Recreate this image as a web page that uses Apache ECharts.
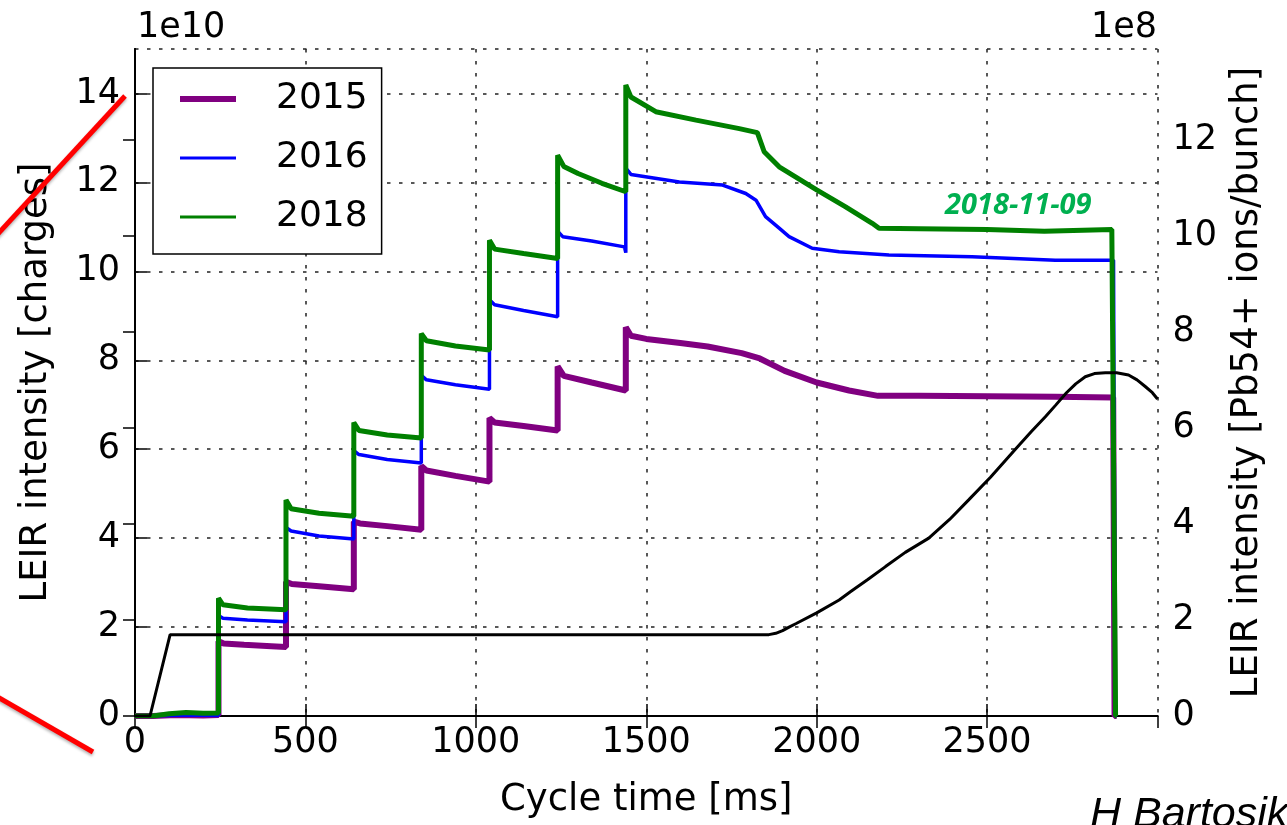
<!DOCTYPE html>
<html>
<head>
<meta charset="utf-8">
<title>LEIR intensity along the cycle</title>
<script src="https://cdn.jsdelivr.net/npm/echarts/dist/echarts.min.js"></script>
<style>
  html, body { margin: 0; padding: 0; background: #ffffff; }
  #chart { width: 1287px; height: 825px; }
</style>
</head>
<body>
<div id="chart"></div>
<script>
// Intensities are in units of 1e10 charges; cycle time in ms.
const seriesNames = ['2015', '2016', '2018'];
const xTicks = [0, 500, 1000, 1500, 2000, 2500];
const leftTicks = [0, 2, 4, 6, 8, 10, 12, 14];
const rightTicks = [0, 2, 4, 6, 8, 10, 12];

const intensity2015 = [
  [0, 0], [53, 0], [120, 0.02], [200, 0.01], [245, 0.02],
  [245, 1.68], [260, 1.63], [320, 1.6], [400, 1.57], [443, 1.55],
  [443, 3.02], [460, 2.97], [540, 2.92], [642, 2.85],
  [642, 4.37], [660, 4.33], [740, 4.27], [840, 4.19],
  [840, 5.62], [855, 5.52], [940, 5.4], [1040, 5.27],
  [1040, 6.7], [1055, 6.6], [1140, 6.52], [1240, 6.42],
  [1240, 7.86], [1258, 7.65], [1340, 7.5], [1440, 7.32],
  [1440, 8.74], [1455, 8.55], [1500, 8.48], [1600, 8.39], [1680, 8.31],
  [1780, 8.16], [1833, 8.04], [1906, 7.76], [2000, 7.5], [2095, 7.32],
  [2180, 7.2], [2300, 7.2], [2500, 7.19], [2700, 7.18], [2870, 7.16],
  [2874, 0], [2880, 0]
];

const intensity2016 = [
  [0, 0], [53, 0], [150, 0.02], [245, 0.01],
  [245, 2.26], [258, 2.2], [330, 2.16], [443, 2.12],
  [443, 4.24], [458, 4.16], [540, 4.05], [642, 3.98],
  [642, 5.97], [657, 5.88], [740, 5.77], [840, 5.69],
  [840, 7.66], [855, 7.56], [940, 7.45], [1040, 7.35],
  [1040, 9.36], [1055, 9.25], [1140, 9.12], [1240, 8.98],
  [1240, 10.9], [1255, 10.78], [1340, 10.68], [1436, 10.55], [1440, 10.42],
  [1440, 12.32], [1455, 12.18], [1597, 12.01], [1724, 11.94], [1792, 11.75],
  [1822, 11.6], [1850, 11.23], [1890, 10.97], [1919, 10.78], [1987, 10.52],
  [2066, 10.44], [2212, 10.37], [2456, 10.33], [2700, 10.25], [2871, 10.25],
  [2876, 0], [2880, 0]
];

const intensity2018 = [
  [0, 0], [53, 0], [100, 0.05], [150, 0.08], [200, 0.06], [245, 0.07],
  [245, 2.65], [258, 2.5], [330, 2.43], [443, 2.39],
  [443, 4.86], [458, 4.66], [540, 4.56], [642, 4.49],
  [642, 6.6], [657, 6.42], [740, 6.32], [840, 6.25],
  [840, 8.6], [855, 8.44], [940, 8.32], [1040, 8.23],
  [1040, 10.7], [1055, 10.5], [1140, 10.4], [1240, 10.29],
  [1240, 12.61], [1258, 12.36], [1300, 12.2], [1370, 11.98], [1440, 11.79],
  [1440, 14.19], [1455, 13.92], [1528, 13.59], [1646, 13.4], [1773, 13.21],
  [1826, 13.12], [1846, 12.69], [1890, 12.35], [2000, 11.83], [2085, 11.45],
  [2163, 11.08], [2183, 10.97], [2300, 10.96], [2500, 10.94], [2668, 10.9],
  [2866, 10.94], [2877, 0], [2880, 0]
];

// Magnetic cycle profile drawn in black (no legend entry), on the left scale.
const rampProfile = [
  [0, 0], [44, 0], [103, 1.83], [1860, 1.83], [1880, 1.86], [1900, 1.92],
  [1919, 2.0], [1940, 2.08], [2000, 2.32], [2066, 2.61], [2100, 2.8],
  [2150, 3.07], [2202, 3.36], [2260, 3.68], [2329, 4.0], [2390, 4.42],
  [2446, 4.86], [2510, 5.37], [2583, 6.0], [2630, 6.4], [2671, 6.73],
  [2700, 6.98], [2733, 7.27], [2760, 7.47], [2788, 7.63], [2815, 7.7],
  [2847, 7.72], [2880, 7.72], [2915, 7.67], [2940, 7.56], [2964, 7.41],
  [2985, 7.27], [3000, 7.13]
];

const FONT = 'DejaVu Sans';
const TICK_FS = 35;
const TITLE_FS = 37;
const LEGEND_FS = 36;
const CHARGES_PER_ION_BUNCH = 108; // 54 charges x 2 bunches
const leftMax = 15;                                     // 1e10 charges
const rightMax = leftMax * 100 / CHARGES_PER_ION_BUNCH; // 1e8 ions/bunch

const axisLineStyle = { color: '#000', width: 2 };
const tickStyle = { color: '#000', width: 1.5 };
const gridStyle = { color: '#222', width: 1.5, type: [3.5, 8.5] };

const chart = echarts.init(document.getElementById('chart'), null, { renderer: 'canvas' });

chart.setOption({
  animation: false,
  backgroundColor: '#ffffff',
  textStyle: { fontFamily: FONT, color: '#000' },
  grid: { left: 135, right: 129.5, top: 49, bottom: 109, containLabel: false },
  legend: {
    orient: 'vertical',
    left: 153, top: 68,
    itemWidth: 56, itemHeight: 14, itemGap: 23,
    padding: [13, 14, 19, 24],
    borderColor: '#000', borderWidth: 1.5, backgroundColor: '#fff',
    itemStyle: { opacity: 0 },
    textStyle: { fontFamily: FONT, fontSize: LEGEND_FS, color: '#000', lineHeight: 36, padding: [0, 0, 0, 35] },
    data: [
      { name: seriesNames[0], lineStyle: { width: 6 }, itemStyle: { opacity: 0 } },
      { name: seriesNames[1], lineStyle: { width: 3 }, itemStyle: { opacity: 0 } },
      { name: seriesNames[2], lineStyle: { width: 3 }, itemStyle: { opacity: 0 } }
    ]
  },
  xAxis: [
    {
      type: 'value', position: 'bottom', min: 0, max: 3000, interval: 500,
      axisLine: { lineStyle: axisLineStyle },
      axisTick: { inside: true, length: 12, lineStyle: tickStyle },
      axisLabel: {
        fontFamily: FONT, fontSize: TICK_FS, color: '#000', margin: 9, showMaxLabel: false,
        formatter: v => (xTicks.indexOf(v) >= 0 ? String(v) : '')
      },
      splitLine: { show: true, lineStyle: gridStyle },
      name: 'Cycle time [ms]', nameLocation: 'middle', nameGap: 66,
      nameTextStyle: { fontFamily: FONT, fontSize: TITLE_FS, color: '#000' }
    },
    {
      type: 'value', position: 'top', min: 0, max: 3000, interval: 500,
      axisLine: { lineStyle: axisLineStyle },
      axisTick: { inside: true, length: 12, lineStyle: tickStyle },
      axisLabel: { show: false },
      splitLine: { show: false }
    }
  ],
  yAxis: [
    {
      type: 'value', position: 'left', min: 0, max: leftMax, interval: 2,
      axisLine: { show: true, lineStyle: axisLineStyle },
      axisTick: { show: true, inside: true, length: 12, lineStyle: tickStyle },
      axisLabel: {
        fontFamily: FONT, fontSize: TICK_FS, color: '#000', margin: 15, showMaxLabel: false,
        formatter: v => (leftTicks.indexOf(v) >= 0 ? String(v) : '')
      },
      splitLine: { show: true, lineStyle: gridStyle },
      name: 'LEIR intensity [charges]', nameLocation: 'middle', nameGap: 80, nameRotate: 90,
      nameTextStyle: { fontFamily: FONT, fontSize: TITLE_FS, color: '#000' }
    },
    {
      type: 'value', position: 'right', min: 0, max: rightMax, interval: 2,
      axisLine: { show: true, lineStyle: axisLineStyle },
      axisTick: { show: true, inside: true, length: 12, lineStyle: tickStyle },
      axisLabel: {
        fontFamily: FONT, fontSize: TICK_FS, color: '#000', margin: 15, showMaxLabel: false,
        formatter: v => (rightTicks.indexOf(v) >= 0 ? String(v) : '')
      },
      splitLine: { show: false },
      name: 'LEIR intensity [Pb54+ ions/bunch]', nameLocation: 'middle', nameGap: 71, nameRotate: 90,
      nameTextStyle: { fontFamily: FONT, fontSize: TITLE_FS, color: '#000' }
    }
  ],
  series: [
    {
      name: seriesNames[0], type: 'line', data: intensity2015, xAxisIndex: 0, yAxisIndex: 0,
      symbol: 'none', lineStyle: { color: '#800080', width: 6 }, itemStyle: { color: '#800080' }, z: 2
    },
    {
      name: seriesNames[1], type: 'line', data: intensity2016, xAxisIndex: 0, yAxisIndex: 0,
      symbol: 'none', lineStyle: { color: '#0000ff', width: 3.5 }, itemStyle: { color: '#0000ff' }, z: 3
    },
    {
      name: seriesNames[2], type: 'line', data: intensity2018, xAxisIndex: 0, yAxisIndex: 0,
      symbol: 'none', lineStyle: { color: '#008000', width: 5 }, itemStyle: { color: '#008000' }, z: 4
    },
    {
      name: 'ramp', type: 'line', data: rampProfile, xAxisIndex: 0, yAxisIndex: 0,
      symbol: 'none', lineStyle: { color: '#000', width: 3 }, itemStyle: { color: '#000' }, z: 5
    }
  ],
  graphic: [
    { type: 'text', left: 137, top: 10, z: 10,
      style: { text: '1e10', fontFamily: FONT, fontSize: TICK_FS, fill: '#000' } },
    { type: 'text', right: 130, top: 10, z: 10,
      style: { text: '1e8', fontFamily: FONT, fontSize: TICK_FS, fill: '#000' } },
    { type: 'text', left: 945, top: 191, z: 10,
      style: { text: '2018-11-09', fontFamily: 'Open Sans', fontStyle: 'italic', fontWeight: 'bold',
               fontSize: 29, fill: '#00b050' } },
    { type: 'text', left: 1090, top: 794, z: 10,
      style: { text: 'H Bartosik', fontFamily: 'Liberation Sans', fontStyle: 'italic',
               fontSize: 43, fill: '#000' } },
    { type: 'line', z: 20,
      shape: { x1: 125, y1: 96, x2: -4, y2: 236 },
      style: { stroke: '#ff0000', lineWidth: 5, shadowBlur: 3, shadowColor: 'rgba(0,0,0,0.3)', shadowOffsetY: 2 } },
    { type: 'line', z: 20,
      shape: { x1: -4, y1: 696, x2: 93, y2: 752 },
      style: { stroke: '#ff0000', lineWidth: 5, shadowBlur: 3, shadowColor: 'rgba(0,0,0,0.3)', shadowOffsetY: 2 } }
  ]
});
</script>
</body>
</html>
